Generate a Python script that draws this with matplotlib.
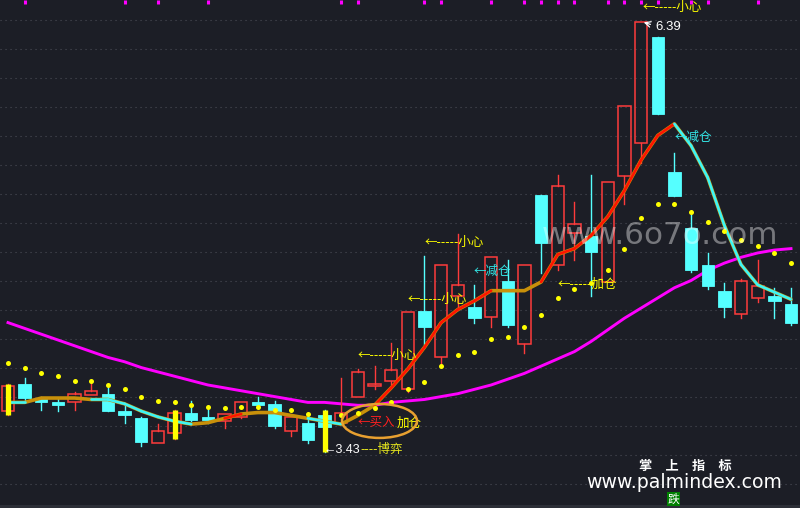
import matplotlib
matplotlib.use('Agg')
import matplotlib.pyplot as plt
import numpy as np
from matplotlib.patches import Rectangle, Ellipse
from matplotlib.collections import LineCollection

plt.rcParams['font.family'] = ['Noto Sans CJK SC', 'DejaVu Sans']

# daily candles
opens = [3.71, 3.90, 3.79, 3.77, 3.77, 3.82, 3.83, 3.71, 3.66, 3.49, 3.56, 3.70, 3.67, 3.64, 3.67, 3.77,
         3.76, 3.57, 3.63, 3.68, 3.63, 3.81, 3.88, 3.92, 3.86, 4.40, 4.08, 4.50, 4.43, 4.36, 4.61, 4.17,
         5.20, 4.72, 4.94, 4.92, 4.60, 5.33, 5.56, 6.29, 5.36, 4.97, 4.72, 4.54, 4.38, 4.49, 4.50, 4.45]
highs = [3.90, 3.94, 3.81, 3.80, 3.84, 3.90, 3.87, 3.76, 3.67, 3.62, 3.72, 3.78, 3.72, 3.69, 3.77, 3.81,
         3.78, 3.67, 3.68, 3.72, 3.94, 4.00, 4.02, 4.18, 4.39, 4.78, 4.72, 4.93, 4.58, 4.77, 4.75, 4.72,
         5.20, 5.34, 5.15, 5.34, 5.29, 5.81, 6.39, 6.29, 5.49, 5.06, 4.80, 4.59, 4.62, 4.75, 4.56, 4.56]
lows = [3.68, 3.77, 3.72, 3.71, 3.72, 3.82, 3.71, 3.63, 3.47, 3.49, 3.52, 3.64, 3.63, 3.59, 3.66, 3.73,
        3.59, 3.54, 3.49, 3.43, 3.63, 3.81, 3.86, 3.90, 3.84, 4.17, 4.03, 4.41, 4.32, 4.29, 4.29, 4.11,
        4.66, 4.68, 4.75, 4.50, 4.60, 5.14, 5.42, 5.76, 5.19, 4.67, 4.55, 4.36, 4.35, 4.46, 4.35, 4.30]
closes = [3.88, 3.80, 3.77, 3.75, 3.83, 3.85, 3.71, 3.68, 3.50, 3.57, 3.70, 3.65, 3.65, 3.69, 3.77, 3.75,
          3.61, 3.67, 3.51, 3.60, 3.70, 3.98, 3.90, 3.99, 4.39, 4.29, 4.72, 4.58, 4.35, 4.77, 4.30, 4.72,
          4.87, 5.26, 5.00, 4.81, 5.29, 5.81, 6.39, 5.76, 5.19, 4.68, 4.57, 4.43, 4.61, 4.57, 4.47, 4.32]

# stop-and-reverse dots
sar = [4.04, 4.01, 3.97, 3.95, 3.92, 3.92, 3.89, 3.86, 3.81, 3.78, 3.77, 3.75, 3.74, 3.73, 3.74, 3.74,
       3.72, 3.72, 3.69, 3.68, 3.68, 3.70, 3.73, 3.77, 3.86, 3.91, 4.02, 4.10, 4.12, 4.21, 4.22, 4.29,
       4.37, 4.49, 4.55, 4.59, 4.68, 4.83, 5.04, 5.14, 5.14, 5.08, 5.01, 4.95, 4.89, 4.85, 4.80, 4.73]

# trend line and its state per step (1 up, -1 down, 0 flat)
trend_line = [3.77, 3.77, 3.80, 3.80, 3.80, 3.79, 3.79, 3.76, 3.71, 3.67, 3.64, 3.62, 3.63, 3.66, 3.69, 3.70,
              3.70, 3.68, 3.66, 3.64, 3.62, 3.68, 3.75, 3.87, 4.00, 4.15, 4.32, 4.41, 4.47, 4.54, 4.54, 4.54,
              4.60, 4.79, 4.83, 4.92, 5.05, 5.23, 5.44, 5.61, 5.69, 5.54, 5.32, 4.99, 4.72, 4.58, 4.53, 4.48]
trend_state = [-1, 0, 0, 0, 0, -1, -1, -1, -1, -1, -1, 0, 0, 1, 0, 0, 0, 0, -1, -1, 0, 0,
               1, 1, 1, 1, 1, 1, 1, 0, 0, 0, 1, 1, 1, 1, 1, 1, 1, 1, -1, -1, -1, -1, -1, -1, -1]

# long moving average
ma_long = [4.32, 4.28, 4.24, 4.20, 4.16, 4.12, 4.08, 4.05, 4.01, 3.98, 3.95, 3.92, 3.89, 3.87, 3.85, 3.83,
           3.81, 3.79, 3.77, 3.77, 3.76, 3.75, 3.75, 3.77, 3.78, 3.79, 3.81, 3.83, 3.86, 3.89, 3.93, 3.97,
           4.02, 4.07, 4.12, 4.19, 4.27, 4.35, 4.42, 4.49, 4.56, 4.61, 4.68, 4.73, 4.77, 4.80, 4.82, 4.83]

top_marks = [1, 7, 9, 12, 20, 21, 25, 26, 29, 31, 32, 33, 34, 36, 37, 38, 39, 41, 42, 45]
stick_bars = [0, 10, 19]

BG = '#1c1e26'
RED = '#ff3b3b'
CYAN = '#55ffff'
YELLOW = '#ffff00'
GOLD = '#c8900a'
MAGENTA = '#ff00ff'

fig = plt.figure(figsize=(8, 5.08), dpi=100, facecolor=BG)
ax = fig.add_axes([0, 0, 1, 1])
ax.set_facecolor(BG)
ax.set_xlim(-0.48, 47.54)
ax.set_ylim(3.042, 6.5436)
ax.axis('off')

# dotted grid
for py in range(20, 500, 29):
    yf = 1 - py / 508
    ax.plot([0, 1], [yf, yf], transform=ax.transAxes, color='#4a4d56', lw=0.8,
            linestyle=(0, (1, 3.5)), zorder=1)

x = np.arange(len(opens))

ax.plot(x, ma_long, color=MAGENTA, lw=2.1, zorder=2)

w = 0.74
for i in range(len(opens)):
    o, h, l, c = opens[i], highs[i], lows[i], closes[i]
    lo, hi = min(o, c), max(o, c)
    if c >= o:
        ax.plot([i, i], [l, lo], color=RED, lw=1.0, zorder=3)
        ax.plot([i, i], [hi, h], color=RED, lw=1.0, zorder=3)
        ax.add_patch(Rectangle((i - w / 2, lo), w, hi - lo, facecolor='none',
                               edgecolor=RED, lw=1.1, zorder=3))
    else:
        ax.plot([i, i], [l, h], color=CYAN, lw=1.0, zorder=3)
        ax.add_patch(Rectangle((i - w / 2, lo), w, hi - lo, facecolor=CYAN,
                               edgecolor=CYAN, lw=0.6, zorder=3))

# trend line: gold base, coloured where it moves
ax.plot(x, trend_line, color=GOLD, lw=2.6, zorder=4, solid_capstyle='round')
pts = np.column_stack([x, trend_line])
segs, cols = [], []
for k, s in enumerate(trend_state):
    if s != 0:
        segs.append([pts[k], pts[k + 1]])
        cols.append('#ff1400' if s > 0 else '#3cf5f5')
ax.add_collection(LineCollection(segs, colors=cols, linewidths=1.9, zorder=4.5,
                                 capstyle='round'))

ax.scatter(x, sar, s=13, color=YELLOW, zorder=5, linewidths=0)

ax.vlines(stick_bars, [lows[i] for i in stick_bars], [highs[i] for i in stick_bars],
          color=YELLOW, lw=3.8, zorder=6)

ax.vlines(top_marks, 1 - 3.5 / 508, 1, transform=ax.get_xaxis_transform(),
          color=MAGENTA, lw=2.2, zorder=6)

# signal labels
fs = 9
for xi, yi in [(21.0, 4.09), (24.0, 4.476), (25.0, 4.869), (38.1, 6.49)]:
    ax.text(xi, yi, '←-----小心', color=YELLOW, fontsize=fs, va='center', ha='left', zorder=7)
for xi, yi in [(27.97, 4.669), (40.04, 5.599)]:
    ax.text(xi, yi, '←减仓', color='#33e6e6', fontsize=fs, va='center', ha='left', zorder=7)
ax.text(33.0, 4.586, '←-----加仓', color=YELLOW, fontsize=fs, va='center', ha='left', zorder=7)
ax.text(21.0, 3.628, '←买入', color='#ff2020', fontsize=fs, va='center', ha='left', zorder=7)
ax.text(23.3, 3.628, '加仓', color=YELLOW, fontsize=fs, va='center', ha='left', zorder=7)
ax.add_patch(Ellipse((22.3, 3.642), 4.5, 0.234, facecolor='none', edgecolor='#e8a030',
                     lw=1.8, zorder=7))

lo_i = int(np.argmin(lows))
hi_i = int(np.argmax(highs))
ax.text(lo_i - 0.09, 3.442, '←' + f'{lows[lo_i]:.2f}', color='white', fontsize=9,
        va='center', ha='left', family=['Liberation Sans', 'DejaVu Sans'], zorder=7)
ax.text(21.13, 3.442, '----博弈', color='#e6e61e', fontsize=fs, va='center', ha='left', zorder=7)
ax.annotate('', xy=(hi_i, highs[hi_i] + 0.005), xytext=(hi_i + 0.72, highs[hi_i] - 0.02),
            arrowprops=dict(arrowstyle='->', color='white', lw=0.9), zorder=7)
ax.text(hi_i + 0.84, 6.357, f'{highs[hi_i]:.2f}', color='white', fontsize=9.5,
        va='center', ha='left', family=['Liberation Sans', 'DejaVu Sans'], zorder=7)

# watermarks
fig.text(542 / 800, 1 - 244 / 508, 'www.6o7o.com', color='white', alpha=0.4, fontsize=22.3,
         family='DejaVu Sans', ha='left', va='baseline', zorder=8)
fig.text(685 / 800, 1 - 466 / 508, '掌　上　指　标', color='white', fontsize=9.5,
         fontweight='bold', ha='center', va='center')
fig.text(684 / 800, 1 - 483 / 508, 'www.palmindex.com', color='white', fontsize=13.6,
         family='DejaVu Sans', ha='center', va='center')
fig.text(673.5 / 800, 1 - 499 / 508, '跌', color='white', fontsize=8.5, ha='center', va='center',
         bbox=dict(facecolor='#008000', edgecolor='none', pad=0.6))
fig.patches.append(Rectangle((0, 0), 1, 3 / 508, transform=fig.transFigure,
                             facecolor='#2c2f37', edgecolor='none'))

fig.savefig('out.png', dpi=100, facecolor=BG)
